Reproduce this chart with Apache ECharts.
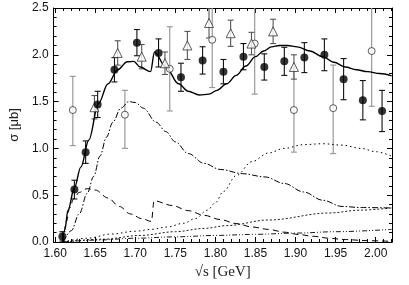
<!DOCTYPE html>
<html><head><meta charset="utf-8">
<script src="https://cdn.jsdelivr.net/npm/echarts@6/dist/echarts.min.js"></script>
<style>html,body{margin:0;padding:0;background:#fff}#c{width:409px;height:285px}</style>
</head><body><div id="c"></div>
<script>
// ---- data ----
const xTicks = [1.60,1.65,1.70,1.75,1.80,1.85,1.90,1.95,2.00];
const yTicks = [0.0,0.5,1.0,1.5,2.0,2.5];

const filledX = [1.609,1.624,1.638,1.653,1.674,1.702,1.729,1.757,1.784,1.810,1.835,1.861,1.886,1.911,1.936,1.960,1.984,2.008];
const filledY = [0.06,0.56,0.96,1.47,1.84,2.13,2.02,1.76,1.94,1.82,1.98,1.87,1.93,1.97,2.00,1.74,1.515,1.40];
const filledErr = [0.05,0.10,0.12,0.14,0.13,0.14,0.15,0.15,0.146,0.13,0.14,0.14,0.15,0.16,0.17,0.22,0.21,0.22];

const triX = [1.649,1.678,1.708,1.737,1.765,1.792,1.819,1.845,1.872,1.898];
const triY = [1.44,2.02,1.98,1.91,2.10,2.34,2.23,2.12,2.25,1.87];
const triErr = [0.125,0.13,0.13,0.12,0.15,0.16,0.14,0.12,0.13,0.13];

const circX = [1.622,1.687,1.743,1.796,1.849,1.898,1.947,1.995];
const circY = [1.41,1.36,1.85,2.16,2.12,1.41,1.43,2.04];
const circLo = [1.03,1.00,1.40,1.65,1.58,0.96,0.945,1.45];
const circHi = [1.77,1.62,2.30,2.60,2.60,1.86,1.89,2.60];

const totalX = [1.609,1.612,1.616,1.624,1.632,1.642,1.654,1.666,1.678,1.690,1.698,1.706,1.719,1.724,1.738,1.754,1.766,1.780,1.792,1.802,1.814,1.826,1.838,1.850,1.860,1.870,1.880,1.890,1.902,1.918,1.934,1.948,1.962,1.976,1.990,2.005,2.020];
const totalY = [0,0.13,0.34,0.58,0.80,1.09,1.48,1.69,1.84,1.925,1.93,1.87,1.82,2.03,1.87,1.69,1.61,1.57,1.58,1.62,1.69,1.78,1.88,1.98,2.04,2.085,2.10,2.10,2.085,2.04,1.98,1.92,1.87,1.84,1.82,1.80,1.775];

const dashDotX = [1.610,1.620,1.630,1.640,1.648,1.656,1.664,1.672,1.682,1.692,1.700,1.710,1.726,1.738,1.750,1.766,1.786,1.806,1.834,1.862,1.886,1.910,1.934,1.958,1.982,2.020];
const dashDotY = [0,0.12,0.30,0.52,0.70,0.92,1.12,1.28,1.43,1.50,1.49,1.43,1.28,1.18,1.07,0.945,0.84,0.775,0.73,0.695,0.625,0.535,0.446,0.38,0.368,0.364];

const dashedX = [1.610,1.614,1.618,1.623,1.630,1.640,1.650,1.666,1.680,1.694,1.708,1.720,1.7235,1.746,1.766,1.786,1.806,1.826,1.846,1.866,1.886,1.904,1.922,1.942,1.962,1.990,2.020];
const dashedY = [0,0.22,0.36,0.46,0.53,0.57,0.555,0.47,0.38,0.30,0.25,0.22,0.44,0.39,0.335,0.285,0.24,0.197,0.16,0.135,0.105,0.08,0.061,0.04,0.026,0.014,0.007];

const dotX = [1.610,1.640,1.670,1.700,1.720,1.740,1.760,1.775,1.790,1.800,1.810,1.826,1.846,1.866,1.886,1.910,1.934,1.958,1.982,2.000,2.020];
const dotY = [0,0.04,0.085,0.115,0.135,0.16,0.20,0.25,0.34,0.42,0.54,0.71,0.86,0.95,1.00,1.04,1.05,1.035,1.00,0.965,0.917];

const linX = [1.610,1.660,1.706,1.750,1.786,1.814,1.866,1.942,1.980,2.020];
const linY = [0,0.03,0.07,0.11,0.145,0.175,0.235,0.31,0.34,0.364];

const smallX = [1.610,1.650,1.700,1.750,1.800,1.850,1.900,1.950,2.020];
const smallY = [0,0.02,0.04,0.055,0.07,0.082,0.095,0.11,0.135];

// ---- build ----
const XMIN = 1.598, XMAX = 2.0204;
const minorX = [];
for (let i = 160; i <= 202; i++) minorX.push(i / 100);
const zip = (a, b) => a.map((v, i) => [v, b[i]]);
const font = 'Liberation Sans';

function errSeries(xs, lo, hi, color, width) {
  return {
    type: 'custom', xAxisIndex: 0, yAxisIndex: 0, clip: true, z: 2,
    data: xs.map((x, i) => [x, lo[i], hi[i]]),
    renderItem: function (params, api) {
      const x = api.value(0);
      const a = api.coord([x, api.value(1)]);
      const b = api.coord([x, api.value(2)]);
      const st = { stroke: color, lineWidth: width };
      const c = 3;
      return { type: 'group', children: [
        { type: 'line', shape: { x1: a[0], y1: a[1], x2: b[0], y2: b[1] }, style: st },
        { type: 'line', shape: { x1: a[0]-c, y1: a[1], x2: a[0]+c, y2: a[1] }, style: st },
        { type: 'line', shape: { x1: b[0]-c, y1: b[1], x2: b[0]+c, y2: b[1] }, style: st }
      ]};
    }
  };
}
function curve(xs, ys, type, width) {
  return {
    type: 'line', data: zip(xs, ys), showSymbol: false, symbol: 'none',
    smooth: 0.35, smoothMonotone: 'x', z: 3,
    lineStyle: { color: '#000', width: width, type: type }
  };
}
const baseX = { type: 'value', min: XMIN, max: XMAX, splitLine: { show: false } };
const xAxes = [
  Object.assign({}, baseX, { position: 'bottom',
    axisLine: { show: true, lineStyle: { color: '#000', width: 1 } },
    axisTick: { show: true, inside: true, length: 5, customValues: xTicks, lineStyle: { color: '#000' } },
    axisLabel: { show: true, customValues: xTicks, formatter: v => v.toFixed(2), color: '#111', fontFamily: font, fontSize: 12, margin: 6 },
    name: '\u221As [GeV]', nameLocation: 'middle', nameGap: 21,
    nameTextStyle: { fontFamily: 'Liberation Serif', fontSize: 15, color: '#222' } }),
  Object.assign({}, baseX, { position: 'bottom', axisLine: { show: false },
    axisTick: { show: true, inside: true, length: 3, customValues: minorX, lineStyle: { color: '#000' } },
    axisLabel: { show: false } }),
  Object.assign({}, baseX, { position: 'top',
    axisLine: { show: true, lineStyle: { color: '#000', width: 1 } },
    axisTick: { show: true, inside: true, length: 5, customValues: xTicks, lineStyle: { color: '#000' } },
    axisLabel: { show: false } }),
  Object.assign({}, baseX, { position: 'top', axisLine: { show: false },
    axisTick: { show: true, inside: true, length: 3, customValues: minorX, lineStyle: { color: '#000' } },
    axisLabel: { show: false } })
];
const baseY = { type: 'value', min: 0, max: 2.5, interval: 0.5, splitLine: { show: false },
  axisLine: { show: true, lineStyle: { color: '#000', width: 1 } },
  axisTick: { show: true, inside: true, length: 5, lineStyle: { color: '#000' } },
  minorTick: { show: true, splitNumber: 5, length: 3, lineStyle: { color: '#000' } } };
const yAxes = [
  Object.assign({}, baseY, { position: 'left',
    axisLabel: { formatter: v => v.toFixed(1), color: '#111', fontFamily: font, fontSize: 12, margin: 5 },
    name: '\u03C3 [\u03BCb]', nameLocation: 'middle', nameGap: 24, nameRotate: 90,
    nameTextStyle: { fontFamily: font, fontSize: 13, color: '#222' } }),
  Object.assign({}, baseY, { position: 'right', axisLabel: { show: false } })
];

const option = {
  animation: false,
  backgroundColor: '#fff',
  grid: { left: 40, right: 17, top: 8, bottom: 43, containLabel: false },
  xAxis: xAxes,
  yAxis: yAxes,
  series: [
    curve(smallX, smallY, [5, 2, 1, 2, 1, 2], 0.9),
    curve(linX, linY, [2, 2], 0.9),
    curve(dotX, dotY, [1.5, 3], 1),
    curve(dashedX, dashedY, [6, 4], 1),
    curve(dashDotX, dashDotY, [6, 2, 1.5, 2], 1),
    curve(totalX, totalY, 'solid', 1.4),
    errSeries(circX, circLo, circHi, '#999', 1.2),
    errSeries(triX, triY.map((v, i) => v - triErr[i]), triY.map((v, i) => v + triErr[i]), '#555', 1.1),
    errSeries(filledX, filledY.map((v, i) => v - filledErr[i]), filledY.map((v, i) => v + filledErr[i]), '#111', 1.1),
    { type: 'scatter', data: zip(circX, circY), symbol: 'circle', symbolSize: 7, z: 5,
      itemStyle: { color: '#fff', borderColor: '#333', borderWidth: 1 } },
    { type: 'scatter', data: zip(triX, triY), symbol: 'triangle', symbolSize: 9, z: 5,
      itemStyle: { color: '#fff', borderColor: '#333', borderWidth: 1 } },
    { type: 'scatter', data: zip(filledX, filledY), symbol: 'circle', symbolSize: 8, z: 6,
      itemStyle: { color: '#000' } }
  ]
};
echarts.init(document.getElementById('c'), null, { renderer: 'canvas' }).setOption(option);
</script></body></html>
